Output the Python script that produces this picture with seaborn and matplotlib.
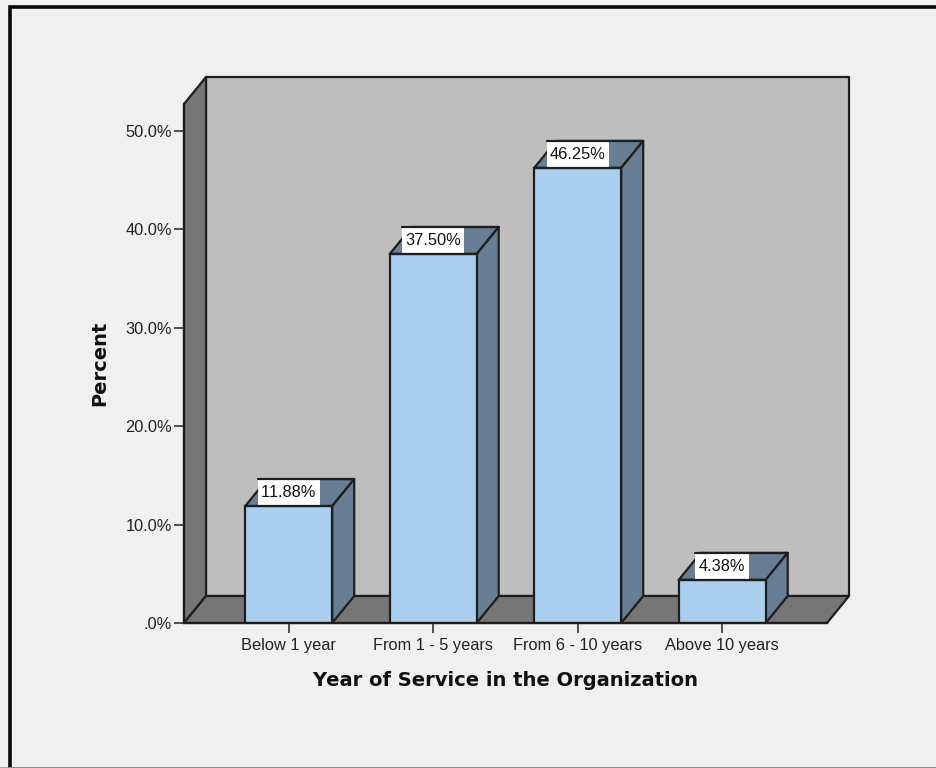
import matplotlib
matplotlib.use("Agg")
import matplotlib.pyplot as plt
from matplotlib.patches import Polygon, Rectangle
import pandas as pd
import seaborn as sns

categories = ["Below 1 year", "From 1 - 5 years", "From 6 - 10 years", "Above 10 years"]
percents = [11.88, 37.50, 46.25, 4.38]
value_labels = ["11.88%", "37.50%", "46.25%", "4.38%"]
y_ticks = [0, 10, 20, 30, 40, 50]
y_tick_labels = [".0%", "10.0%", "20.0%", "30.0%", "40.0%", "50.0%"]
x_title = "Year of Service in the Organization"
y_title = "Percent"

BG = "#F0F0F0"
WALL = "#BEBEBE"
SIDE = "#767676"
FRONT = "#ABCFEE"
DARK = "#687E94"
EDGE = "#1E1E1E"

sns.set_theme(style="white")
plt.rcParams["font.family"] = ["Liberation Sans", "DejaVu Sans"]
plt.rcParams["text.kerning_factor"] = 10

W, H = 937, 768
fig = plt.figure(figsize=(W / 100, H / 100), dpi=100, facecolor=BG)

# page border
fig.add_artist(Rectangle((10.5 / W, -1 / H), (W + 20) / W, (H - 6) / H, transform=fig.transFigure,
                         fill=False, ec="#0A0A0A", lw=2.6))
fig.add_artist(plt.Line2D([0, 1], [0.5 / H, 0.5 / H], color="#999999", lw=1.2))

L, R, B, T = 184, 827, 623, 104
ax = fig.add_axes([L / W, (H - B) / H, (R - L) / W, (B - T) / H], facecolor="none")

df = pd.DataFrame({"cat": categories, "pct": percents})
step_px = 144.5
unit_px = 98.4
first_px = 288.7
ax.set_xlim((L - first_px) / step_px, (R - first_px) / step_px)
ax.set_ylim(0, (B - T) / unit_px * 10)
ddx = 22 / step_px
ddy = 27 / unit_px * 10
xa, xb = ax.get_xlim()
ya, yb = ax.get_ylim()

poly = dict(ec=EDGE, lw=1.6, joinstyle="round", clip_on=False)
ax.add_patch(Polygon([(xa + ddx, ya + ddy), (xb + ddx, ya + ddy), (xb + ddx, yb + ddy), (xa + ddx, yb + ddy)],
                     fc=WALL, zorder=0.5, **poly))
ax.add_patch(Polygon([(xa, ya), (xa + ddx, ya + ddy), (xa + ddx, yb + ddy), (xa, yb)],
                     fc=SIDE, zorder=0.6, **poly))
ax.add_patch(Polygon([(xa, ya), (xb, ya), (xb + ddx, ya + ddy), (xa + ddx, ya + ddy)],
                     fc=SIDE, zorder=0.6, **poly))

bar_w = 87 / step_px
sns.barplot(data=df, x="cat", y="pct", order=categories, color=FRONT, saturation=1, width=bar_w,
            edgecolor=EDGE, linewidth=1.6, ax=ax, zorder=3, native_scale=False)
ax.set_xlim(xa, xb)
ax.set_ylim(ya, yb)

for i, v in enumerate(percents):
    x0, x1 = i - bar_w / 2, i + bar_w / 2
    top = [(x0, v), (x1, v), (x1 + ddx, v + ddy), (x0 + ddx, v + ddy)]
    ax.add_patch(Polygon(top, fc=DARK, zorder=2.5, **poly))
    ax.add_patch(Polygon([(x1, 0), (x1 + ddx, ddy), (x1 + ddx, v + ddy), (x1, v)],
                         fc=DARK, zorder=2.5, **poly))
    box_w = (len(value_labels[i]) * 8 + 14) / step_px
    ax.add_patch(Rectangle((i - box_w / 2, v), box_w, ddy, fc="white", ec="none", zorder=3.5, clip_on=False))
    ax.plot([i - box_w / 2, x1 + ddx], [v + ddy, v + ddy], color=EDGE, lw=1.6, zorder=3.6, clip_on=False)
    ax.plot([x0, x1], [v, v], color=EDGE, lw=1.6, zorder=3.6, clip_on=False)
    ax.text(i, v + ddy / 2, value_labels[i], ha="center", va="center", fontsize=11.8, color="#111111", zorder=5)

for s in ("top", "right"):
    ax.spines[s].set_visible(False)
for s in ("left", "bottom"):
    ax.spines[s].set_color(EDGE)
    ax.spines[s].set_linewidth(1.6)
    ax.spines[s].set_zorder(4)

ax.set_yticks(y_ticks)
ax.set_yticklabels(y_tick_labels)
ax.set_xticks(range(len(categories)))
ax.set_xticklabels(categories)
ax.tick_params(axis="both", length=7, width=1.2, color="#333333", labelsize=11.8, labelcolor="#222222",
               left=True, bottom=True, pad=1.5)
ax.tick_params(axis="x", pad=3.5)
ax.set_xlabel(x_title, fontsize=14, fontweight="bold", color="#111111", family="DejaVu Sans")
ax.set_ylabel(y_title, fontsize=14, fontweight="bold", color="#111111", family="DejaVu Sans")
ax.xaxis.set_label_coords((505 - L) / (R - L), -(681 - B) / (B - T), transform=ax.transAxes)
ax.yaxis.set_label_coords(-(184 - 100) / (R - L), (B - 363) / (B - T), transform=ax.transAxes)
ax.xaxis.label.set_va("center")
ax.yaxis.label.set_va("center")

fig.savefig("out.png", dpi=100, facecolor=BG)
